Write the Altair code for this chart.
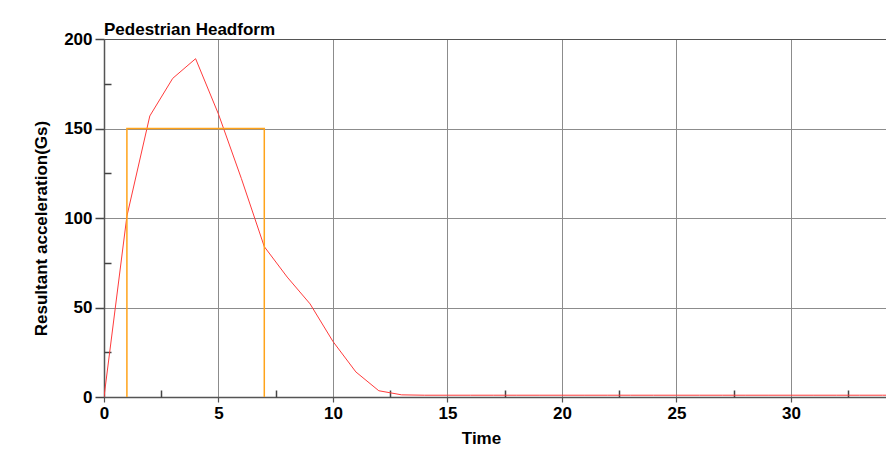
import altair as alt
import pandas as pd

# Red curve: resultant acceleration vs time
time_vals = list(range(0, 36))
accel_vals = [0, 101, 157, 178, 189, 158, 122, 84, 67, 52, 31, 14, 3.5, 1.2,
              1, 1, 1, 1, 1, 1, 1, 1, 1, 1, 1, 1, 1, 1, 1, 1, 1, 1, 1, 1, 1, 1]

# Orange corridor (HIC window)
win_t = [1, 1, 7, 7]
win_a = [0, 150, 150, 0]
win_order = [0, 1, 2, 3]

x_major = [0, 5, 10, 15, 20, 25, 30]
x_minor = [2.5, 7.5, 12.5, 17.5, 22.5, 27.5, 32.5]
y_major = [0, 50, 100, 150, 200]
y_minor = [25, 75, 125, 175]

W, H = 782, 358
FONT = "Liberation Sans"

df_curve = pd.DataFrame({"t": time_vals, "a": accel_vals})
df_win = pd.DataFrame({"t": win_t, "a": win_a, "o": win_order})

xscale = alt.Scale(domain=[0, 34.15], nice=False, zero=False)
yscale = alt.Scale(domain=[0, 200], nice=False)

curve = alt.Chart(df_curve).mark_line(color="#ff3b3b", strokeWidth=1, clip=True).encode(
    x=alt.X("t:Q", scale=xscale,
            axis=alt.Axis(values=x_major, orient="bottom", title="Time", grid=True,
                          gridColor="#8c8c8c", gridWidth=1, domainColor="#555555", domainWidth=1.5,
                          ticks=True, tickSize=5, tickColor="#555555", tickWidth=1.2,
                          labelPadding=3, labelFontSize=17, labelFontWeight="bold",
                          labelFont=FONT, labelColor="#000", titleFont=FONT, titleFontSize=17,
                          titleFontWeight="bold", titleColor="#000", titleX=377, titleY=46,
                          titleBaseline="alphabetic", titleAnchor="start", titleAlign="center",
                          labelFlush=False)),
    y=alt.Y("a:Q", scale=yscale,
            axis=alt.Axis(values=y_major, orient="left", title="Resultant acceleration(Gs)",
                          grid=True,
                          gridColor={"condition": {"test": "datum.value == 200", "value": "#555555"},
                                     "value": "#8c8c8c"},
                          domainColor="#555555", domainWidth=1.5, ticks=True, tickSize=9,
                          tickColor="#444444", tickWidth=1.5, labelPadding=3, labelFontSize=17,
                          labelFontWeight="bold", labelFont=FONT, labelColor="#000",
                          titleFont=FONT, titleFontSize=17, titleFontWeight="bold", titleColor="#000",
                          titleAngle=-90, titleX=-63, titleY=189, titleBaseline="middle",
                          titleAlign="center", titleAnchor="start", labelFlush=False)),
)

window = alt.Chart(df_win).mark_line(color="#ffa31a", strokeWidth=1.5, clip=True).encode(
    x=alt.X("t:Q", scale=xscale,
            axis=alt.Axis(values=x_minor, orient="top", offset=-H, title=None, labels=False,
                          domain=False, grid=False, ticks=True, tickSize=7, tickColor="#444444",
                          tickWidth=1.5)),
    y=alt.Y("a:Q", scale=yscale,
            axis=alt.Axis(values=y_minor, orient="right", offset=-W, title=None, labels=False,
                          domain=False, grid=False, ticks=True, tickSize=7, tickColor="#444444",
                          tickWidth=1.5)),
    order="o:Q",
)

chart = (
    alt.layer(curve, window)
    .resolve_axis(x="independent", y="independent")
    .properties(
        width=W,
        height=H,
        title=alt.TitleParams("Pedestrian Headform", anchor="start", font=FONT, fontSize=17,
                              fontWeight="bold", color="#000", offset=-9, frame="group"),
        autosize=alt.AutoSizeParams(type="none"),
        padding={"left": 96, "top": 31, "right": 0, "bottom": 52},
    )
    .configure_view(stroke=None)
    .configure(background="white")
)

chart.save("out.html", embed_options={"renderer": "svg", "actions": False})
